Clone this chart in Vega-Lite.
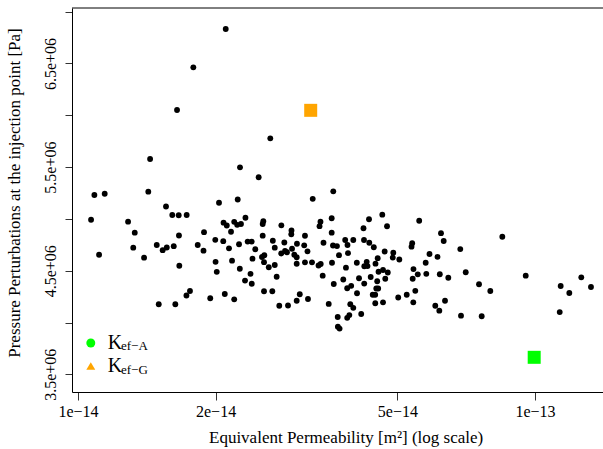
{
  "$schema": "https://vega.github.io/schema/vega-lite/v6.json",
  "width": 531,
  "height": 384,
  "autosize": {"type": "none"},
  "padding": {"left": 72, "top": 8, "right": 0, "bottom": 57},
  "background": "white",
  "config": {
    "view": {"stroke": null},
    "font": "Liberation Serif",
    "axis": {"grid": false, "labelFont": "Liberation Serif", "titleFont": "Liberation Serif", "labelColor": "black", "titleColor": "black", "titleFontWeight": "normal", "domainColor": "black", "tickColor": "#333333"},
    "legend": {"labelFont": "Liberation Serif", "labelColor": "black"}
  },
  "datasets": {
    "samples": [
      {"k": 2.105e-14, "p": 6833000}, {"k": 1.788e-14, "p": 6463000}, {"k": 1.647e-14, "p": 6051000}, {"k": 2.635e-14, "p": 5778000},
      {"k": 1.438e-14, "p": 5578000}, {"k": 2.262e-14, "p": 5498000}, {"k": 2.485e-14, "p": 5402000}, {"k": 1.086e-14, "p": 5231000},
      {"k": 1.144e-14, "p": 5243000}, {"k": 1.425e-14, "p": 5263000}, {"k": 2.236e-14, "p": 5187000}, {"k": 3.263e-14, "p": 5194000},
      {"k": 3.619e-14, "p": 5266000}, {"k": 1.068e-14, "p": 4992000}, {"k": 1.112e-14, "p": 4654000}, {"k": 1.287e-14, "p": 4973000},
      {"k": 1.331e-14, "p": 4867000}, {"k": 1.321e-14, "p": 4722000}, {"k": 1.395e-14, "p": 4626000}, {"k": 1.558e-14, "p": 5120000},
      {"k": 1.608e-14, "p": 5038000}, {"k": 1.661e-14, "p": 5035000}, {"k": 1.729e-14, "p": 5038000}, {"k": 1.663e-14, "p": 4840000},
      {"k": 1.487e-14, "p": 4748000}, {"k": 1.532e-14, "p": 4698000}, {"k": 1.564e-14, "p": 4724000}, {"k": 1.620e-14, "p": 4737000},
      {"k": 1.666e-14, "p": 4548000}, {"k": 1.502e-14, "p": 4176000}, {"k": 1.633e-14, "p": 4176000}, {"k": 1.727e-14, "p": 4261000},
      {"k": 1.758e-14, "p": 4304000}, {"k": 1.828e-14, "p": 4748000}, {"k": 1.887e-14, "p": 4872000}, {"k": 1.882e-14, "p": 4693000},
      {"k": 1.947e-14, "p": 4234000}, {"k": 1.997e-14, "p": 4798000}, {"k": 2.000e-14, "p": 4586000}, {"k": 2.012e-14, "p": 4489000},
      {"k": 2.035e-14, "p": 5156000}, {"k": 2.082e-14, "p": 4964000}, {"k": 2.116e-14, "p": 4936000}, {"k": 2.079e-14, "p": 4785000},
      {"k": 2.095e-14, "p": 4275000}, {"k": 2.140e-14, "p": 4716000}, {"k": 2.162e-14, "p": 4876000}, {"k": 2.173e-14, "p": 4597000},
      {"k": 2.197e-14, "p": 4972000}, {"k": 2.197e-14, "p": 4224000}, {"k": 2.230e-14, "p": 4943000}, {"k": 2.251e-14, "p": 4755000},
      {"k": 2.260e-14, "p": 4519000}, {"k": 2.273e-14, "p": 4951000}, {"k": 2.325e-14, "p": 5011000}, {"k": 2.320e-14, "p": 4405000},
      {"k": 2.351e-14, "p": 4781000}, {"k": 2.399e-14, "p": 4781000}, {"k": 2.385e-14, "p": 4470000}, {"k": 2.400e-14, "p": 4374000},
      {"k": 2.409e-14, "p": 4616000}, {"k": 2.443e-14, "p": 4707000}, {"k": 2.544e-14, "p": 4977000}, {"k": 2.536e-14, "p": 4951000},
      {"k": 2.536e-14, "p": 4838000}, {"k": 2.669e-14, "p": 4789000}, {"k": 2.695e-14, "p": 4722000}, {"k": 2.828e-14, "p": 4772000},
      {"k": 2.784e-14, "p": 4666000}, {"k": 2.838e-14, "p": 4690000}, {"k": 2.866e-14, "p": 4678000}, {"k": 2.940e-14, "p": 4712000},
      {"k": 3.014e-14, "p": 4760000}, {"k": 2.974e-14, "p": 4654000}, {"k": 3.010e-14, "p": 4630000}, {"k": 3.010e-14, "p": 4567000},
      {"k": 2.527e-14, "p": 4632000}, {"k": 2.557e-14, "p": 4649000}, {"k": 2.553e-14, "p": 4582000}, {"k": 2.615e-14, "p": 4533000},
      {"k": 2.695e-14, "p": 4555000}, {"k": 2.721e-14, "p": 4442000}, {"k": 2.553e-14, "p": 4302000}, {"k": 2.662e-14, "p": 4302000},
      {"k": 2.757e-14, "p": 4162000}, {"k": 2.881e-14, "p": 4164000}, {"k": 3.010e-14, "p": 4210000}, {"k": 3.057e-14, "p": 4273000},
      {"k": 2.786e-14, "p": 4938000}, {"k": 2.932e-14, "p": 4888000}, {"k": 2.929e-14, "p": 4852000}, {"k": 3.138e-14, "p": 4837000},
      {"k": 3.126e-14, "p": 4745000}, {"k": 3.178e-14, "p": 4687000}, {"k": 3.251e-14, "p": 4581000}, {"k": 3.138e-14, "p": 4581000},
      {"k": 3.186e-14, "p": 4227000}, {"k": 3.393e-14, "p": 4973000}, {"k": 3.377e-14, "p": 4930000}, {"k": 3.360e-14, "p": 4550000},
      {"k": 3.397e-14, "p": 4565000}, {"k": 3.431e-14, "p": 4452000}, {"k": 3.445e-14, "p": 4770000}, {"k": 3.537e-14, "p": 4179000},
      {"k": 3.590e-14, "p": 5006000}, {"k": 3.590e-14, "p": 4867000}, {"k": 3.596e-14, "p": 4577000}, {"k": 3.614e-14, "p": 4743000},
      {"k": 3.687e-14, "p": 4738000}, {"k": 3.628e-14, "p": 4372000}, {"k": 3.725e-14, "p": 4650000}, {"k": 3.806e-14, "p": 4415000},
      {"k": 3.843e-14, "p": 4796000}, {"k": 3.858e-14, "p": 4529000}, {"k": 3.888e-14, "p": 4748000}, {"k": 3.898e-14, "p": 4669000},
      {"k": 4.003e-14, "p": 4796000}, {"k": 3.701e-14, "p": 4053000}, {"k": 3.704e-14, "p": 3960000}, {"k": 3.736e-14, "p": 3941000},
      {"k": 3.882e-14, "p": 4045000}, {"k": 3.924e-14, "p": 4072000}, {"k": 3.882e-14, "p": 4331000}, {"k": 3.961e-14, "p": 4354000},
      {"k": 3.943e-14, "p": 4177000}, {"k": 4.003e-14, "p": 4142000}, {"k": 4.079e-14, "p": 4282000}, {"k": 4.075e-14, "p": 4577000},
      {"k": 4.120e-14, "p": 4427000}, {"k": 4.166e-14, "p": 4082000}, {"k": 4.230e-14, "p": 4376000}, {"k": 4.225e-14, "p": 4796000},
      {"k": 4.232e-14, "p": 4543000}, {"k": 4.214e-14, "p": 4910000}, {"k": 4.283e-14, "p": 4586000}, {"k": 4.300e-14, "p": 4545000},
      {"k": 4.333e-14, "p": 4997000}, {"k": 4.339e-14, "p": 4770000}, {"k": 4.370e-14, "p": 4439000}, {"k": 4.439e-14, "p": 4726000},
      {"k": 4.477e-14, "p": 4568000}, {"k": 4.470e-14, "p": 4268000}, {"k": 4.415e-14, "p": 4268000}, {"k": 4.495e-14, "p": 4328000},
      {"k": 4.538e-14, "p": 4328000}, {"k": 4.516e-14, "p": 4398000}, {"k": 4.527e-14, "p": 4621000}, {"k": 4.472e-14, "p": 4186000},
      {"k": 4.650e-14, "p": 4195000}, {"k": 4.546e-14, "p": 4490000}, {"k": 4.650e-14, "p": 4507000}, {"k": 4.763e-14, "p": 4483000},
      {"k": 4.703e-14, "p": 4422000}, {"k": 4.633e-14, "p": 5041000}, {"k": 4.745e-14, "p": 4929000}, {"k": 4.689e-14, "p": 4685000},
      {"k": 4.897e-14, "p": 4673000}, {"k": 4.884e-14, "p": 4627000}, {"k": 5.048e-14, "p": 4608000}, {"k": 5.020e-14, "p": 4241000},
      {"k": 5.240e-14, "p": 4268000}, {"k": 5.386e-14, "p": 4765000}, {"k": 5.368e-14, "p": 4732000}, {"k": 5.421e-14, "p": 4516000},
      {"k": 5.400e-14, "p": 4422000}, {"k": 5.540e-14, "p": 4465000}, {"k": 5.471e-14, "p": 4306000}, {"k": 5.416e-14, "p": 4195000},
      {"k": 5.580e-14, "p": 4982000}, {"k": 5.765e-14, "p": 4577000}, {"k": 5.783e-14, "p": 4470000}, {"k": 5.877e-14, "p": 4661000},
      {"k": 6.051e-14, "p": 4162000}, {"k": 6.175e-14, "p": 4114000}, {"k": 6.119e-14, "p": 4634000}, {"k": 6.190e-14, "p": 4466000},
      {"k": 6.227e-14, "p": 4862000}, {"k": 6.313e-14, "p": 4787000}, {"k": 6.461e-14, "p": 4432000}, {"k": 6.863e-14, "p": 4709000},
      {"k": 7.054e-14, "p": 4485000}, {"k": 7.543e-14, "p": 4369000}, {"k": 7.984e-14, "p": 4304000}, {"k": 8.482e-14, "p": 4828000},
      {"k": 9.544e-14, "p": 4452000}, {"k": 1.1382e-13, "p": 4352000}, {"k": 1.1888e-13, "p": 4285000}, {"k": 1.2627e-13, "p": 4436000},
      {"k": 1.3259e-13, "p": 4343000}, {"k": 1.1327e-13, "p": 4101000}, {"k": 6.355e-14, "p": 4210000}, {"k": 6.888e-14, "p": 4066000},
      {"k": 7.645e-14, "p": 4060000}
    ],
    "estimates": [
      {"k": 9.96e-14, "p": 3664000, "method": "Kef-A", "variant": "A"},
      {"k": 3.23e-14, "p": 6048000, "method": "Kef-G", "variant": "G"}
    ]
  },
  "layer": [
    {
      "data": {"name": "samples"},
      "mark": {"type": "circle", "size": 34, "color": "black", "opacity": 1},
      "encoding": {
        "x": {
          "field": "k", "type": "quantitative",
          "scale": {"type": "log", "domain": [9.702e-15, 1.4087e-13], "nice": false},
          "axis": {
            "values": [1e-14, 2e-14, 5e-14, 1e-13],
            "labelExpr": "datum.value < 1.5e-14 ? '1e\u221214' : datum.value < 3e-14 ? '2e\u221214' : datum.value < 7e-14 ? '5e\u221214' : '1e\u221213'",
            "tickSize": 8, "labelPadding": 3, "labelFont": "Liberation Serif", "labelFontSize": 16, "labelFlush": false, "labelOverlap": false,
            "title": "Equivalent Permeability [m\u00b2] (log scale)",
            "titleFont": "Liberation Serif", "titleFontSize": 17, "titleX": 273.6, "titleY": 50, "titleAlign": "center", "titleBaseline": "alphabetic"
          }
        },
        "y": {
          "field": "p", "type": "quantitative",
          "scale": {"domain": [3329200, 7035700], "nice": false, "zero": false},
          "axis": {
            "values": [3500000, 4000000, 4500000, 5000000, 5500000, 6000000, 6500000, 7000000],
            "labelExpr": "(datum.value / 1000000) % 1 == 0.5 ? format(datum.value / 1000000, '.1f') + 'e+06' : ''",
            "labelAngle": -90, "labelAlign": "center", "labelBaseline": "alphabetic",
            "tickSize": 7, "labelPadding": 10, "labelFont": "Liberation Serif", "labelFontSize": 16, "labelFlush": false, "labelOverlap": false,
            "title": "Pressure Perturbations at the injection point [Pa]",
            "titleFont": "Liberation Serif", "titleFontSize": 17, "titleAngle": -90, "titleX": -53, "titleY": 184.5, "titleAlign": "center", "titleBaseline": "alphabetic"
          }
        }
      }
    },
    {
      "data": {"name": "estimates"},
      "mark": {"type": "square", "size": 169, "opacity": 1},
      "encoding": {
        "x": {"field": "k", "type": "quantitative"},
        "y": {"field": "p", "type": "quantitative"},
        "fill": {
          "field": "method", "type": "nominal",
          "scale": {"range": ["#00ff00", "#ffa500"]},
          "legend": null
        }
      }
    },
    {
      "data": {"name": "estimates"},
      "mark": {"type": "point", "filled": true, "size": 80, "opacity": 0},
      "encoding": {
        "x": {"field": "k", "type": "quantitative"},
        "y": {"field": "p", "type": "quantitative"},
        "color": {
          "field": "method", "type": "nominal",
          "scale": {"domain": ["Kef-A", "Kef-G"], "range": ["#00ff00", "#ffa500"]},
          "legend": {"orient": "none", "legendX": 8.8, "legendY": 325, "title": null, "labelExpr": "'K'", "labelFont": "Liberation Serif", "labelFontSize": 20, "symbolSize": 80, "symbolOpacity": 1, "symbolStrokeWidth": 0, "rowPadding": 3, "labelOffset": 7, "padding": 0}
        },
        "shape": {
          "field": "method", "type": "nominal",
          "scale": {"domain": ["Kef-A", "Kef-G"], "range": ["circle", "triangle-up"]},
          "legend": {"orient": "none", "legendX": 8.8, "legendY": 325, "title": null, "labelExpr": "'K'", "labelFont": "Liberation Serif", "labelFontSize": 20, "symbolSize": 80, "symbolOpacity": 1, "symbolStrokeWidth": 0, "rowPadding": 3, "labelOffset": 7, "padding": 0}
        },
        "strokeDash": {
          "field": "variant", "type": "nominal",
          "scale": {"range": [[1, 0], [1, 0]]},
          "legend": {"orient": "bottom-left", "offset": 15, "title": null, "labelExpr": "'ef\u2212' + datum.label", "labelFont": "Liberation Serif", "labelFontSize": 13, "symbolSize": 0, "symbolOpacity": 0, "symbolStrokeWidth": 0, "rowPadding": 10, "labelOffset": 21, "padding": 0}
        }
      }
    },
    {
      "data": {"values": [{}]},
      "mark": {"type": "rule", "color": "black", "strokeWidth": 1},
      "encoding": {"y": {"datum": 7035700, "type": "quantitative"}}
    }
  ]
}
